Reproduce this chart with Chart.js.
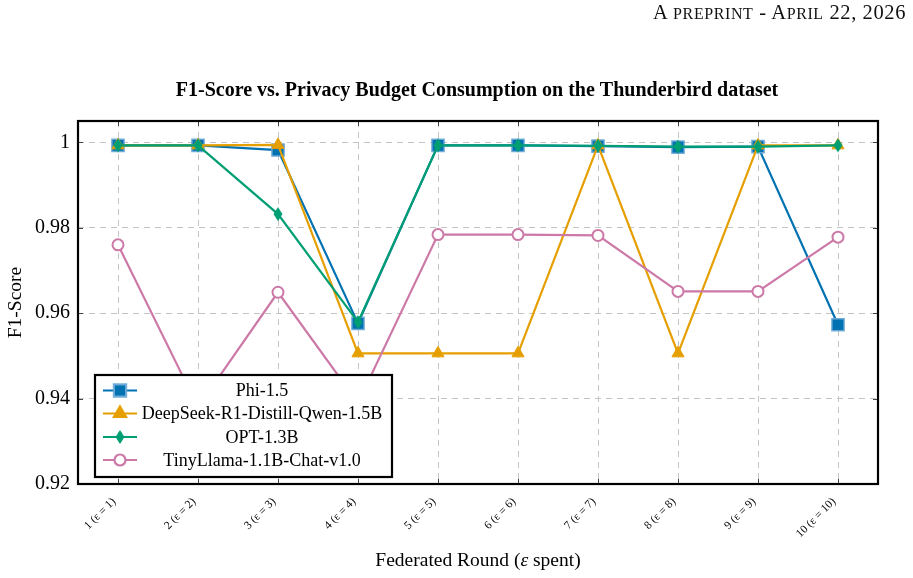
<!DOCTYPE html>
<html>
<head>
<meta charset="utf-8">
<script src="https://cdn.jsdelivr.net/npm/chart.js@4.4.1/dist/chart.umd.min.js"></script>
<style>
  html, body { margin: 0; padding: 0; background: #ffffff; }
  #wrap { position: relative; width: 913px; height: 578px; }
  #hdr { position: absolute; right: 7px; top: 1px; font-family: "Liberation Serif", "Times New Roman", serif; font-size: 20.5px; color: #111; white-space: nowrap; letter-spacing: 0.6px; }
  #hdr .sc { font-size: 16px; }
  canvas { position: absolute; left: 0; top: 0; }
</style>
</head>
<body>
<div id="wrap">
  <canvas id="c" width="913" height="578"></canvas>
  <div id="hdr">A <span class="sc">PREPRINT</span> - A<span class="sc">PRIL</span> 22, 2026</div>
</div>
<script>
// ---- data ----
const categories = ["1 (\u03b5 = 1)", "2 (\u03b5 = 2)", "3 (\u03b5 = 3)", "4 (\u03b5 = 4)", "5 (\u03b5 = 5)",
                    "6 (\u03b5 = 6)", "7 (\u03b5 = 7)", "8 (\u03b5 = 8)", "9 (\u03b5 = 9)", "10 (\u03b5 = 10)"];
const phi      = [0.9993, 0.9993, 0.9982, 0.9576, 0.9993, 0.9993, 0.9991, 0.9989, 0.9990, 0.9573];
const deepseek = [0.9993, 0.9993, 0.9994, 0.9506, 0.9506, 0.9506, 0.9993, 0.9506, 0.9993, 0.9993];
const opt      = [0.9993, 0.9993, 0.9832, 0.9579, 0.9993, 0.9993, 0.9992, 0.9990, 0.9990, 0.9993];
const tinyllama= [0.9760, 0.9380, 0.9649, 0.9390, 0.9784, 0.9784, 0.9782, 0.9651, 0.9651, 0.9778];
const yTicks = [0.92, 0.94, 0.96, 0.98, 1.0];
const seriesNames = ["Phi-1.5", "DeepSeek-R1-Distill-Qwen-1.5B", "OPT-1.3B", "TinyLlama-1.1B-Chat-v1.0"];
const titleText = "F1-Score vs. Privacy Budget Consumption on the Thunderbird dataset";
const xTitleParts = ["Federated Round (", "\u03b5", " spent)"];
const yTitle = "F1-Score";

// ---- styles ----
const SERIF = '"Liberation Serif", "Times New Roman", serif';
const C_BLUE = '#0072B2', C_ORANGE = '#E69F00', C_GREEN = '#009E73', C_PINK = '#CC79A7';

function diamondImg(color) {
  const c = document.createElement('canvas');
  c.width = 12; c.height = 16;
  const g = c.getContext('2d');
  g.fillStyle = color;
  g.beginPath();
  g.moveTo(6, 1); g.lineTo(10.5, 8); g.lineTo(6, 15); g.lineTo(1.5, 8); g.closePath();
  g.fill();
  return c;
}
const diamond = diamondImg(C_GREEN);

const datasets = [
  { label: seriesNames[0], data: phi, borderColor: C_BLUE, backgroundColor: C_BLUE,
    pointStyle: 'rect', pointRadius: 8.6, pointBackgroundColor: C_BLUE, pointBorderColor: 'rgba(110,170,215,0.95)',
    pointBorderWidth: 1.5, borderWidth: 2.2, order: 4 },
  { label: seriesNames[1], data: deepseek, borderColor: C_ORANGE, backgroundColor: C_ORANGE,
    pointStyle: 'triangle', pointRadius: 7, pointBackgroundColor: C_ORANGE, pointBorderColor: C_ORANGE,
    pointBorderWidth: 1, borderWidth: 2.2, order: 3 },
  { label: seriesNames[2], data: opt, borderColor: C_GREEN, backgroundColor: C_GREEN,
    pointStyle: diamond, pointRadius: 7, borderWidth: 2.2, order: 2 },
  { label: seriesNames[3], data: tinyllama, borderColor: C_PINK, backgroundColor: '#ffffff',
    pointStyle: 'circle', pointRadius: 5.5, pointBackgroundColor: '#ffffff', pointBorderColor: C_PINK,
    pointBorderWidth: 2, borderWidth: 2.2, order: 1 }
];

function drawMarker(ctx, ds, x, y) {
  if (ds.pointStyle === diamond) {
    ctx.drawImage(diamond, x - 6, y - 8);
    return;
  }
  Chart.helpers.drawPoint(ctx, {
    pointStyle: ds.pointStyle, radius: ds.pointRadius, borderWidth: ds.pointBorderWidth, rotation: 0
  }, x, y);
}

const framePlugin = {
  id: 'frame',
  afterDraw(chart) {
    const ctx = chart.ctx;
    const a = chart.chartArea;
    const xs = chart.scales.x, ys = chart.scales.y;
    ctx.save();
    // inner tick marks
    ctx.strokeStyle = '#444';
    ctx.lineWidth = 1;
    ctx.beginPath();
    xs.ticks.forEach((t, i) => {
      const px = Math.round(xs.getPixelForTick(i)) + 0.5;
      ctx.moveTo(px, a.bottom); ctx.lineTo(px, a.bottom - 5);
      ctx.moveTo(px, a.top); ctx.lineTo(px, a.top + 5);
    });
    ys.ticks.forEach((t) => {
      const py = Math.round(ys.getPixelForValue(t.value)) + 0.5;
      ctx.moveTo(a.left, py); ctx.lineTo(a.left + 5, py);
      ctx.moveTo(a.right, py); ctx.lineTo(a.right - 5, py);
    });
    ctx.stroke();
    // frame
    ctx.strokeStyle = '#000';
    ctx.lineWidth = 2.2;
    ctx.strokeRect(a.left, a.top, a.right - a.left, a.bottom - a.top);

    // legend
    const lx = 95, ly = 375, lw = 297, lh = 102;
    ctx.fillStyle = '#ffffff';
    ctx.fillRect(lx, ly, lw, lh);
    ctx.lineWidth = 2.2;
    ctx.strokeStyle = '#000';
    ctx.strokeRect(lx, ly, lw, lh);
    ctx.font = '18px ' + SERIF;
    ctx.textAlign = 'center';
    ctx.textBaseline = 'middle';
    const rows = [390.5, 413.5, 437, 460];
    chart.data.datasets.forEach((ds, i) => {
      const y = rows[i];
      ctx.strokeStyle = ds.borderColor;
      ctx.lineWidth = 2.2;
      ctx.beginPath(); ctx.moveTo(103, y); ctx.lineTo(137, y); ctx.stroke();
      ctx.fillStyle = ds.pointBackgroundColor || ds.backgroundColor;
      ctx.strokeStyle = ds.pointBorderColor || ds.borderColor;
      drawMarker(ctx, ds, 120, y);
      ctx.fillStyle = '#000';
      ctx.fillText(ds.label, 262, y + 1);
    });

    // titles
    ctx.fillStyle = '#000';
    ctx.font = 'bold 20px ' + SERIF;
    ctx.textAlign = 'center';
    ctx.textBaseline = 'middle';
    ctx.fillText(titleText, (a.left + a.right) / 2 - 1, 91);

    // x axis title with italic epsilon
    const fN = '19.5px ' + SERIF, fI = 'italic 19.5px ' + SERIF;
    ctx.font = fN; const w0 = ctx.measureText(xTitleParts[0]).width, w2 = ctx.measureText(xTitleParts[2]).width;
    ctx.font = fI; const w1 = ctx.measureText(xTitleParts[1]).width;
    let sx = (a.left + a.right) / 2 - (w0 + w1 + w2) / 2;
    ctx.textAlign = 'left';
    ctx.font = fN; ctx.fillText(xTitleParts[0], sx, 561); sx += w0;
    ctx.font = fI; ctx.fillText(xTitleParts[1], sx, 561); sx += w1;
    ctx.font = fN; ctx.fillText(xTitleParts[2], sx, 561);

    ctx.textAlign = 'center';
    ctx.font = '19.5px ' + SERIF;
    ctx.save();
    ctx.translate(16, (a.top + a.bottom) / 2);
    ctx.rotate(-Math.PI / 2);
    ctx.fillText(yTitle, 0, 0);
    ctx.restore();
    ctx.restore();
  }
};

new Chart(document.getElementById('c'), {
  type: 'line',
  data: { labels: categories, datasets: datasets },
  options: {
    responsive: false,
    animation: false,
    devicePixelRatio: 1,
    layout: { padding: { top: 121, right: 35, left: 0, bottom: 0 } },
    plugins: { legend: { display: false }, tooltip: { enabled: false }, title: { display: false } },
    elements: { line: { tension: 0 } },
    scales: {
      x: {
        type: 'category',
        offset: true,
        afterFit(s) { s.height = 94; },
        grid: { display: true, color: '#c4c4c4', lineWidth: 1, drawTicks: false, offset: false },
        border: { display: false, dash: [6, 5] },
        ticks: { color: '#000', font: { family: SERIF, size: 11.5 }, minRotation: 45, maxRotation: 45,
                 padding: 11, labelOffset: -4, autoSkip: false }
      },
      y: {
        type: 'linear',
        min: 0.92, max: 1.005,
        afterFit(s) { s.width = 78; },
        afterBuildTicks(s) { s.ticks = yTicks.map(v => ({ value: v })); },
        grid: { display: true, color: '#c4c4c4', lineWidth: 1, drawTicks: false },
        border: { display: false, dash: [6, 5] },
        ticks: { color: '#000', font: { family: SERIF, size: 20 }, padding: 8,
                 callback: (v) => (v === 1 ? '1' : Number(v).toFixed(2)) }
      }
    }
  },
  plugins: [framePlugin]
});
</script>
</body>
</html>
